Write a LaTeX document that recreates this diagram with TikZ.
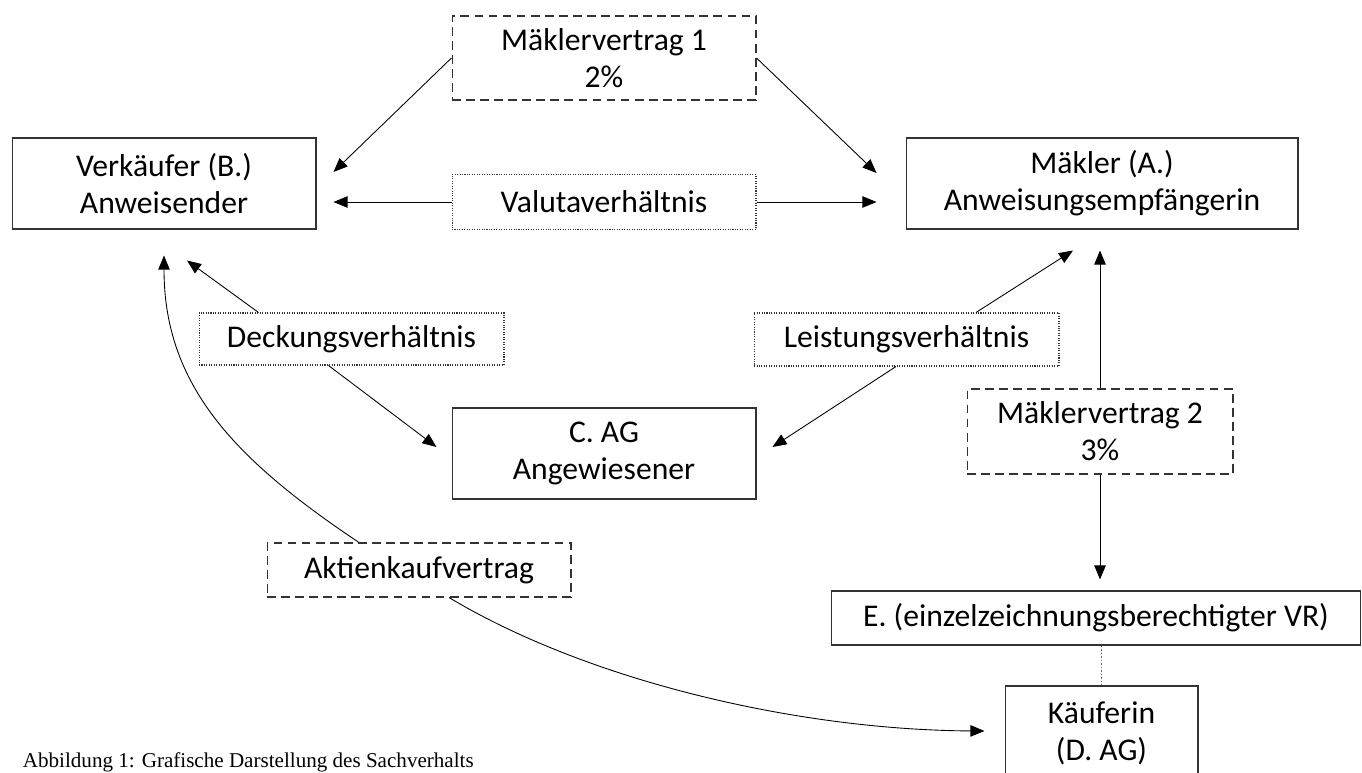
\documentclass[tikz,border=0pt]{standalone}
\usepackage{fontspec}
\setmainfont{Carlito}
\newfontfamily\capfont{Liberation Serif}
\usetikzlibrary{arrows.meta,calc}

\begin{document}
\begin{tikzpicture}[x=0.02cm,y=-0.02cm]
        \fontsize{18}{21}\selectfont
        \tikzstyle{box} = [rectangle,draw=black!80,line width=0.6pt,align=center,inner sep=0pt]
        \tikzstyle{vertrag} = [box,dash pattern=on 5pt off 3pt]
        \tikzstyle{verh} = [box,dash pattern=on 0.6pt off 0.8pt]
        \tikzstyle{arr} = [-{Triangle[length=8pt,width=6.5pt]},line width=0.5pt]
        \path[use as bounding box,clip] (0,0) rectangle (1362,773);

        % parties
        \node[box,minimum width=6.08cm,minimum height=1.82cm] (verk) at (164,183.5) {Verkäufer (B.)\\Anweisender};
        \node[box,minimum width=7.84cm,minimum height=1.82cm] (makler) at (1102,183.5) {Mäkler (A.)\\Anweisungsempfängerin};
        \node[box,minimum width=6.08cm,minimum height=1.82cm] (cag) at (604,453.5) {C. AG\\Angewiesener};
        \node[box,minimum width=10.6cm,minimum height=1.08cm] (ebox) at (1096,618) {E. (einzelzeichnungsberechtigter VR)};
        \node[box,minimum width=3.86cm,minimum height=1.88cm] (kauf) at (1101.5,733) {Käuferin\\(D. AG)};

        % contracts
        \node[vertrag,minimum width=6.08cm,minimum height=1.68cm] (mv1) at (604,58) {Mäklervertrag 1\\2\%};
        \node[vertrag,minimum width=5.32cm,minimum height=1.7cm] (mv2) at (1100,431.5) {Mäklervertrag 2\\3\%};
        \node[vertrag,minimum width=6.08cm,minimum height=1.08cm] (akt) at (419,570) {Aktienkaufvertrag};

        % relations
        \node[verh,minimum width=6.08cm,minimum height=1.1cm] (valuta) at (604,202) {Valutaverhältnis};
        \node[verh,minimum width=6.1cm,minimum height=1.04cm] (deck) at (351.5,339) {Deckungsverhältnis};
        \node[verh,minimum width=6.1cm,minimum height=1.06cm] (leist) at (906.5,339.5) {Leistungsverhältnis};

        % arrows between nodes
        \draw[arr] (mv1.west) -- ($(verk.east)+(17,-11.5)$);
        \draw[arr] (mv1.east) -- ($(makler.west)+(-29,-10.5)$);
        \draw[arr] (valuta.west) -- ($(verk.east |- valuta.west)+(17,0)$);
        \draw[arr] (valuta.east) -- ($(makler.west |- valuta.east)+(-29,0)$);
        \draw[arr] ($(deck.north)+(-93,0)$) -- ($(verk.south)+(23,31)$);
        \draw[arr] ($(deck.south)+(-23,0)$) -- ($(cag.west)+(-15,-6.5)$);
        \draw[arr] ($(leist.north)+(69.5,0)$) -- ($(makler.south)+(-29,21)$);
        \draw[arr] ($(leist.south)+(-10.5,0)$) -- ($(cag.east)+(16,-6.5)$);
        \draw[arr] (mv2.north) -- ($(makler.south)+(-2,21)$);
        \draw[arr] (mv2.south) -- ($(ebox.north -| mv2.south)+(0,-11)$);
        \draw[black!60,line width=0.4pt,dash pattern=on 1pt off 1pt] (ebox.south -| kauf.north) -- (kauf.north);
        \draw[arr] ($(akt.north)+(-60,0)$) .. controls (234,459) and (164,385) .. ($(verk.south)+(0,26)$);
        \draw[arr] ($(akt.south)+(30,0)$) .. controls (590,682) and (800,730) .. ($(kauf.west)+(-20,-2)$);

        % caption
        \node[anchor=base west,font=\capfont\fontsize{12}{14}\selectfont] (cap) at (12,767) {Abbildung 1: Grafische Darstellung des Sachverhalts};
\end{tikzpicture}
\end{document}
